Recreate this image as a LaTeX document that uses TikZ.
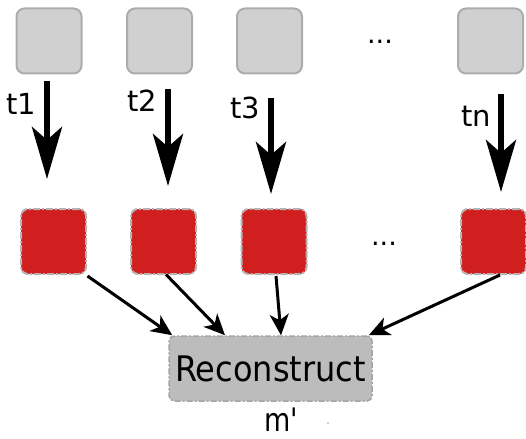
\documentclass[tikz,border=0pt]{standalone}
\usepackage{fontspec}
\setmainfont{DejaVu Sans}
\usetikzlibrary{arrows.meta}
\definecolor{srcgray}{HTML}{D0D0D0}
\definecolor{srcedge}{HTML}{ACACAC}
\definecolor{partred}{HTML}{D11F20}
\definecolor{partedge}{HTML}{B4B4B4}
\definecolor{recfill}{HTML}{BCBCBC}
\definecolor{recedge}{HTML}{A4A4A4}
\tikzset{
  source/.style={draw=srcedge, fill=srcgray, line width=2pt, rounded corners=8pt,
    minimum width=65pt, minimum height=65pt, inner sep=0pt},
  part/.style={draw=partedge, fill=partred, line width=2pt, rounded corners=7pt,
    dash pattern=on 7pt off 2pt on 2pt off 2pt,
    minimum width=65pt, minimum height=65pt, inner sep=0pt},
  recbox/.style={draw=recedge, fill=recfill, line width=1.5pt, rounded corners=5pt,
    dash pattern=on 6pt off 2pt on 2pt off 2pt,
    minimum width=203pt, minimum height=65pt, inner sep=0pt, font=\fontsize{32}{36}\selectfont},
  bigarrow/.style={line width=6pt, -{Stealth[length=52pt,width=30pt,inset=13pt]}},
  smallarrow/.style={line width=3pt, -{Stealth[length=21pt,width=19pt,inset=6pt]}},
  lbl/.style={font=\fontsize{29}{32}\selectfont, inner sep=0pt},
  dotsl/.style={font=\fontsize{27}{30}\selectfont, inner sep=0pt, anchor=base},
}
\begin{document}
\begin{tikzpicture}[x=1pt, y=-1pt]
\useasboundingbox (0,0) rectangle (526,438);

% sources along the top
\node[source] (g1) at (49,41) {};
\node[source] (g2) at (159.5,41) {};
\node[source] (g3) at (269.5,41) {};
\node[source] (g4) at (490.5,41) {};
\node[dotsl] (d1) at (380,44) {...};

% red fragments
\node[part] (r1) at (53.5,241.5) {};
\node[part] (r2) at (163.5,241.5) {};
\node[part] (r3) at (274,241.5) {};
\node[part] (r4) at (493.5,241.5) {};
\node[dotsl] (d2) at (384,245) {...};

% reconstruction step
\node[recbox] (rec) at (270.5,368.5) {\scalebox{1}[1.1]{Reconstruct}};
\node[font=\fontsize{27}{30}\selectfont, inner sep=0pt, anchor=base] (mp) at (281,431)
  {\scalebox{1}[1.2]{m\textquotesingle}};
\fill[black!25] (328,423) circle (1.1pt);

% transfer arrows
\draw[bigarrow] ([shift={(-2,6.5)}]g1.south) -- ([shift={(-6.5,-29)}]r1.north);
\draw[bigarrow] ([shift={(8.5,14.5)}]g2.south) -- ([shift={(4.5,-22)}]r2.north);
\draw[bigarrow] ([shift={(1.5,23.5)}]g3.south) -- ([shift={(-3,-14)}]r3.north);
\draw[bigarrow] ([shift={(10.5,19.5)}]g4.south) -- ([shift={(7.5,-16)}]r4.north);

\node[lbl] (t1) at (21.5,104) {t1};
\node[lbl] (t2) at (142,101) {t2};
\node[lbl] (t3) at (245,108) {t3};
\node[lbl] (tn) at (476,116) {tn};

% fragments feeding the reconstruction
\draw[smallarrow] ([shift={(0.5,1)}]r1.south east) -- ([shift={(4,0)}]rec.north west);
\draw[smallarrow] ([shift={(2.5,-0.5)}]r2.south) -- ([shift={(-45.5,0)}]rec.north);
\draw[smallarrow] ([shift={(2,1)}]r3.south) -- ([shift={(10.5,0)}]rec.north);
\draw[smallarrow] ([shift={(6.5,0)}]r4.south) -- ([shift={(-4,0)}]rec.north east);
\end{tikzpicture}
\end{document}
